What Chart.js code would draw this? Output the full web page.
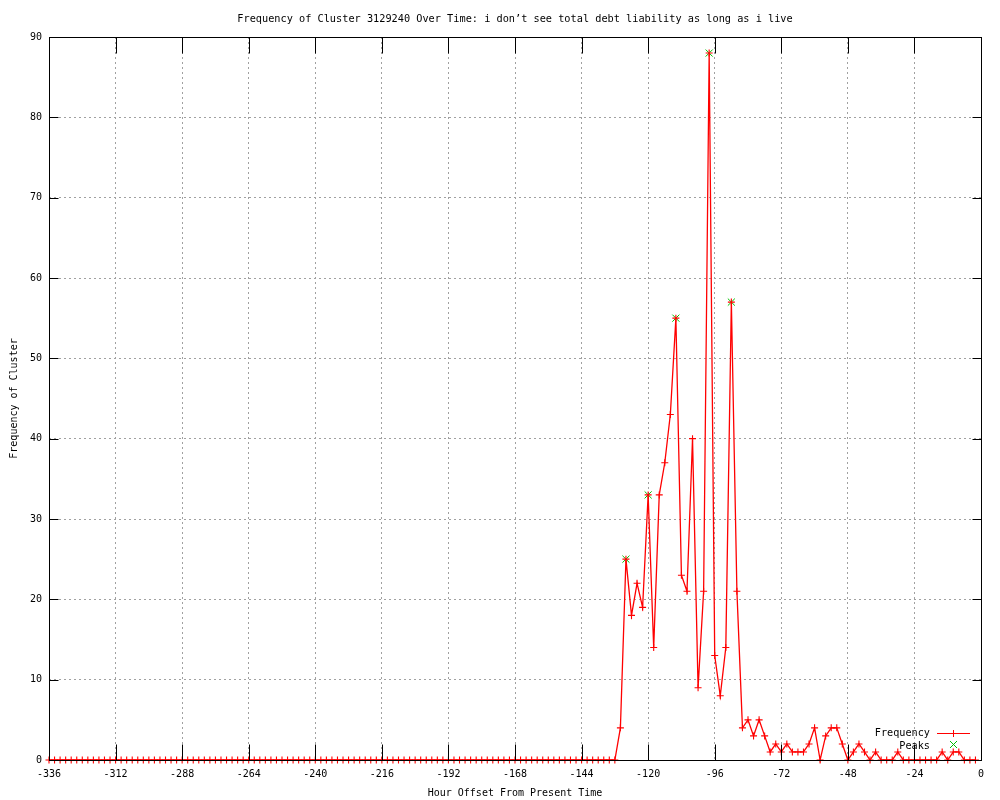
<!DOCTYPE html>
<html><head><meta charset="utf-8">
<script src="https://cdn.jsdelivr.net/npm/chart.js@4.4.0/dist/chart.umd.min.js"></script>
<style>html,body{margin:0;padding:0;background:#fff}canvas{display:block}</style>
</head><body>
<canvas id="c" width="1000" height="800"></canvas>
<script>
const titleText = "Frequency of Cluster 3129240 Over Time: i don’t see total debt liability as long as i live";
const xAxisTitle = "Hour Offset From Present Time";
const yAxisTitle = "Frequency of Cluster";

const hours = [
  -336,-334,-332,-330,-328,-326,-324,-322,-320,-318,-316,-314,-312,-310,-308,-306,-304,-302,-300,-298,
  -296,-294,-292,-290,-288,-286,-284,-282,-280,-278,-276,-274,-272,-270,-268,-266,-264,-262,-260,-258,
  -256,-254,-252,-250,-248,-246,-244,-242,-240,-238,-236,-234,-232,-230,-228,-226,-224,-222,-220,-218,
  -216,-214,-212,-210,-208,-206,-204,-202,-200,-198,-196,-194,-192,-190,-188,-186,-184,-182,-180,-178,
  -176,-174,-172,-170,-168,-166,-164,-162,-160,-158,-156,-154,-152,-150,-148,-146,-144,-142,-140,-138,
  -136,-134,-132,-130,-128,-126,-124,-122,-120,-118,-116,-114,-112,-110,-108,-106,-104,-102,-100,-98,
  -96,-94,-92,-90,-88,-86,-84,-82,-80,-78,-76,-74,-72,-70,-68,-66,-64,-62,-60,-58,
  -56,-54,-52,-50,-48,-46,-44,-42,-40,-38,-36,-34,-32,-30,-28,-26,-24,-22,-20,-18,
  -16,-14,-12,-10,-8,-6,-4,-2
];
const frequency = [
  0,0,0,0,0,0,0,0,0,0,0,0,0,0,0,0,0,0,0,0,
  0,0,0,0,0,0,0,0,0,0,0,0,0,0,0,0,0,0,0,0,
  0,0,0,0,0,0,0,0,0,0,0,0,0,0,0,0,0,0,0,0,
  0,0,0,0,0,0,0,0,0,0,0,0,0,0,0,0,0,0,0,0,
  0,0,0,0,0,0,0,0,0,0,0,0,0,0,0,0,0,0,0,0,
  0,0,0,4,25,18,22,19,33,14,33,37,43,55,23,21,40,9,21,88,
  13,8,14,57,21,4,5,3,5,3,1,2,1,2,1,1,1,2,4,0,
  3,4,4,2,0,1,2,1,0,1,0,0,0,1,0,0,0,0,0,0,
  0,1,0,1,1,0,0,0
];
const peakHours = [-128,-120,-110,-98,-90];
const peakValues = [25,33,55,88,57];
const xTicks = [-336,-312,-288,-264,-240,-216,-192,-168,-144,-120,-96,-72,-48,-24,0];
const yTicks = [0,10,20,30,40,50,60,70,80,90];

const FONT = "'DejaVu Sans Mono', 'Liberation Mono', monospace";
const RED = 'rgb(255,0,0)';
const GREEN = 'rgb(0,192,0)';

const framePlugin = {
  id: 'frame',
  afterDatasetsDraw(chart) {
    const {ctx, chartArea: a, scales: {x, y}} = chart;
    const L = Math.round(a.left) + 0.5, R = Math.round(a.right) + 0.5;
    const T = Math.round(a.top) + 0.5, B = Math.round(a.bottom) + 0.5;
    ctx.save();
    ctx.strokeStyle = '#000';
    ctx.lineWidth = 1;
    ctx.setLineDash([]);
    ctx.beginPath();
    xTicks.forEach(v => {
      const px = Math.round(x.getPixelForValue(v)) + 0.5;
      ctx.moveTo(px, B); ctx.lineTo(px, B - 16);
      ctx.moveTo(px, T); ctx.lineTo(px, T + 16);
    });
    yTicks.forEach(v => {
      const py = Math.round(y.getPixelForValue(v)) + 0.5;
      ctx.moveTo(L, py); ctx.lineTo(L + 9, py);
      ctx.moveTo(R, py); ctx.lineTo(R - 9, py);
    });
    ctx.stroke();
    ctx.strokeRect(L, T, R - L, B - T);
    ctx.restore();

    // key (legend) inside the plot, bottom right
    const ds = chart.data.datasets;
    ctx.save();
    ctx.font = "10.2px " + FONT;
    ctx.fillStyle = '#000';
    ctx.textAlign = 'right';
    ctx.textBaseline = 'middle';
    ctx.fillText(ds[0].label, 930, 733);
    ctx.fillText(ds[1].label, 930, 746);
    ctx.fillStyle = RED;
    ctx.fillRect(937, 733, 33, 1);
    ctx.fillRect(953, 730, 1, 7);
    ctx.fillStyle = GREEN;
    for (let i = 0; i < 7; i++) {
      ctx.fillRect(950 + i, 741 + i, 1, 1);
      ctx.fillRect(956 - i, 741 + i, 1, 1);
    }
    ctx.restore();
  }
};

new Chart(document.getElementById('c'), {
  type: 'line',
  data: {
    datasets: [
      {
        label: 'Frequency',
        data: hours.map((h, i) => ({x: h, y: frequency[i]})),
        borderColor: RED,
        borderWidth: 1.3,
        tension: 0,
        pointStyle: 'cross',
        pointRadius: 3.5,
        pointBorderColor: RED,
        pointBorderWidth: 1.1,
        pointHoverRadius: 3.5,
        fill: false,
        clip: 8
      },
      {
        label: 'Peaks',
        data: peakHours.map((h, i) => ({x: h, y: peakValues[i]})),
        showLine: false,
        pointStyle: 'crossRot',
        pointRadius: 5,
        pointBorderColor: GREEN,
        pointBackgroundColor: GREEN,
        pointBorderWidth: 1,
        borderColor: GREEN,
        clip: 8
      }
    ]
  },
  options: {
    responsive: false,
    animation: false,
    devicePixelRatio: 1,
    layout: {padding: {left: 0, right: 19, top: 0, bottom: 0}},
    plugins: {
      legend: {display: false},
      tooltip: {enabled: false},
      title: {
        display: true,
        fullSize: false,
        text: titleText,
        color: '#000',
        font: {family: FONT, size: 10.25, weight: 'normal', lineHeight: 1.2},
        padding: {top: 13, bottom: 11.7}
      }
    },
    scales: {
      x: {
        type: 'linear',
        min: -336, max: 0,
        afterBuildTicks: s => { s.ticks = xTicks.map(v => ({value: v})); },
        afterFit: s => { s.height = 40; },
        ticks: {
          color: '#000', autoSkip: false, maxRotation: 0, padding: 8,
          font: {family: FONT, size: 10}
        },
        grid: {color: '#a0a0a0', lineWidth: 1, drawTicks: false},
        border: {display: false, dash: [2, 3]},
        title: {
          display: true, text: xAxisTitle, color: '#000',
          font: {family: FONT, size: 10, lineHeight: 1.2},
          padding: {top: 0, bottom: 1}
        }
      },
      y: {
        type: 'linear',
        min: 0, max: 90,
        afterBuildTicks: s => { s.ticks = yTicks.map(v => ({value: v})); },
        afterFit: s => { s.width = 49; },
        ticks: {
          color: '#000', padding: 7,
          font: {family: FONT, size: 10}
        },
        grid: {color: '#a0a0a0', lineWidth: 1, drawTicks: false},
        border: {display: false, dash: [2, 3]},
        title: {
          display: true, text: yAxisTitle, color: '#000',
          font: {family: FONT, size: 10, lineHeight: 1.2},
          padding: {top: 8, bottom: 0}
        }
      }
    }
  },
  plugins: [framePlugin]
});
</script>
</body></html>
